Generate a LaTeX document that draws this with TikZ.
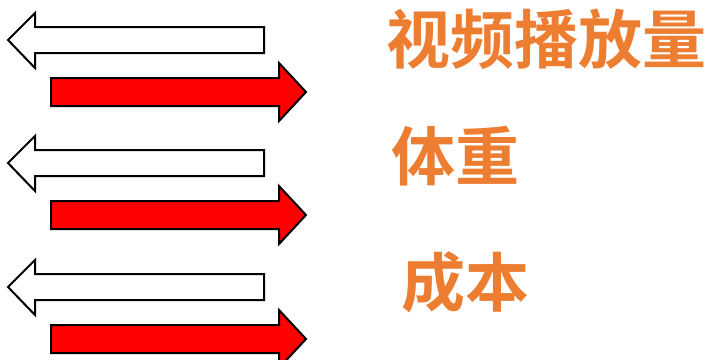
\documentclass[tikz,border=0pt]{standalone}
\usepackage{fontspec}
\newfontfamily\cjk[UprightFont={* Bold}]{Noto Sans CJK SC}
\definecolor{officeorange}{RGB}{237,125,49}
\definecolor{arrowred}{RGB}{255,0,0}
\begin{document}
\begin{tikzpicture}[x=1pt,y=-1pt,
  leftarrow/.style={draw=black,line width=2pt,fill=white,line join=miter},
  rightarrow/.style={draw=black,line width=2pt,fill=arrowred,line join=miter},
  label/.style={text=officeorange,font=\cjk\fontsize{64}{64}\selectfont,inner sep=0pt,anchor=center}]
\useasboundingbox (0,0) rectangle (708,359);
\foreach \dy in {0,123,247}{
  \begin{scope}[yshift=-\dy pt]
    \draw[leftarrow] (8,40) -- (35,13) -- (35,27) -- (264,27) -- (264,53) -- (35,53) -- (35,68) -- cycle;
    \draw[rightarrow] (51,78) -- (279,78) -- (279,63) -- (306,92) -- (279,121) -- (279,106) -- (51,106) -- cycle;
  \end{scope}
}
\node[label] (t1) at (546,39) {视频播放量};
\node[label] (t2) at (455,156) {体重};
\node[label] (t3) at (465,282) {成本};
\end{tikzpicture}
\end{document}
